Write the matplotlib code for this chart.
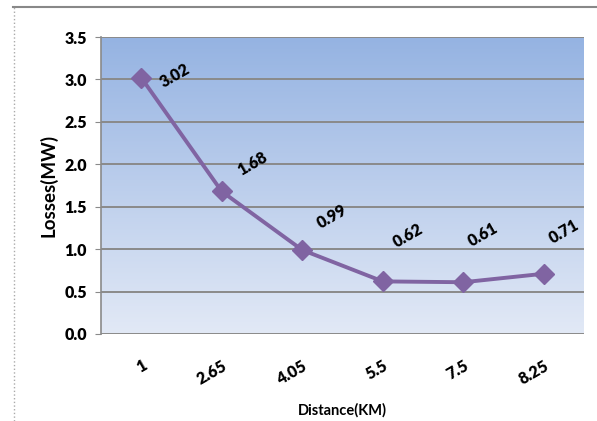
import numpy as np
import matplotlib
matplotlib.use('Agg')
import matplotlib.pyplot as plt
from matplotlib.colors import LinearSegmentedColormap
from matplotlib.lines import Line2D

# chart data
distance_labels = ["1", "2.65", "4.05", "5.5", "7.5", "8.25"]
losses = [3.02, 1.68, 0.99, 0.62, 0.61, 0.71]
y_ticks = [0.0, 0.5, 1.0, 1.5, 2.0, 2.5, 3.0, 3.5]

# label offsets in pixels (dx, dy) from each marker
label_offsets = [(34, 2), (31, 28), (30, 33), (25, 46), (20, 48), (20, 42)]

plt.rcParams['font.family'] = ['Lato', 'DejaVu Sans']

fig = plt.figure(figsize=(5.97, 4.21), dpi=100)
ax = fig.add_axes([101/597, 1 - 334/421, 483/597, 297/421])

# gradient background
grad = LinearSegmentedColormap.from_list("bg", ["#e2e9f6", "#95b3e2"])
ax.imshow(np.linspace(0, 1, 256).reshape(-1, 1), cmap=grad, aspect='auto',
          extent=[0, 1, 0, 1], transform=ax.transAxes, origin='lower', zorder=0)

x = np.arange(len(losses))
ax.set_xlim(-0.5, len(losses) - 0.5)
ax.set_ylim(0, 3.5)
ax.set_yticks(y_ticks)
ax.set_yticklabels([f"{v:.1f}" for v in y_ticks], fontsize=11.5, fontweight='heavy')
ax.yaxis.grid(True, color='#8a8a8a', linewidth=1.4, zorder=1)
ax.set_axisbelow(True)

ax.plot(x, losses, color='#8064a2', linewidth=2.8, marker='D', markersize=10,
        zorder=3, clip_on=False)

for xi, v, (dx, dy) in zip(x, losses, label_offsets):
    ax.annotate(f"{v:.2f}", (xi, v), xytext=(dx * 0.72, dy * 0.72),
                textcoords='offset points', ha='center', va='center',
                rotation=30, fontsize=11.5, fontweight='heavy', zorder=4)

ax.set_xticks(x)
ax.set_xticklabels(distance_labels, rotation=30, ha='right', rotation_mode='anchor',
                   fontsize=11.5, fontweight='heavy')
ax.tick_params(axis='x', length=0, pad=17)
ax.tick_params(axis='y', length=4, color='#8a8a8a', pad=6)

for side in ['top', 'right', 'bottom']:
    ax.spines[side].set_visible(False)
ax.spines['left'].set_color('#8a8a8a')
ax.spines['left'].set_linewidth(1.2)

ax.set_xlabel("Distance(KM)", fontsize=10.5, fontweight='bold', labelpad=11)
ax.set_ylabel("Losses(MW)", fontsize=13.5, fontweight='bold', labelpad=5)

# outer chart frame
fig.add_artist(Line2D([13/597, 1], [1 - 7/421, 1 - 7/421], color='#888888',
                      linewidth=1.5, transform=fig.transFigure))
fig.add_artist(Line2D([14/597, 14/597], [0, 1 - 7/421], color='#aaaaaa',
                      linewidth=1, linestyle=':', transform=fig.transFigure))

plt.savefig("out.png", dpi=100)
plt.close()
